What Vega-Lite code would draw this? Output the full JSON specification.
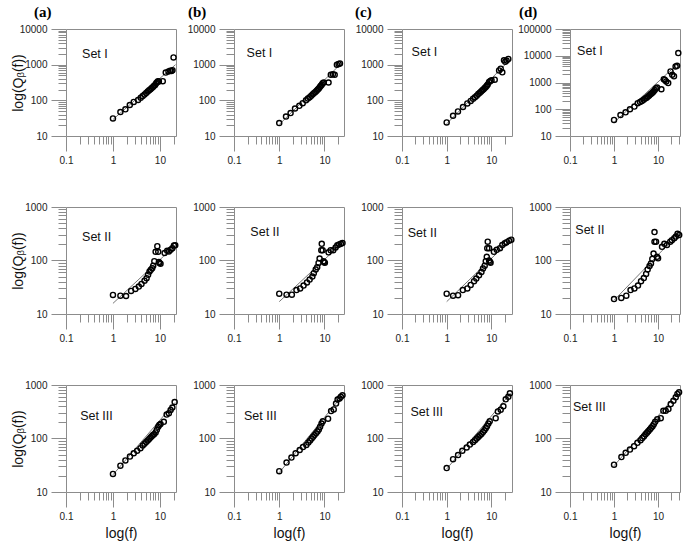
{
"$schema": "https://vega.github.io/schema/vega-lite/v6.json",
"padding": {"left": 10, "top": 4, "right": 0, "bottom": 0},
"bounds": "flush",
"columns": 4,
"spacing": {"row": 71, "column": 58},
"datasets": {
"fit": [
{"p":"a1","f":1,"q":29},{"p":"a1","f":21.5,"q":1000},
{"p":"b1","f":1,"q":21},{"p":"b1","f":22,"q":1000},
{"p":"c1","f":1,"q":22},{"p":"c1","f":25,"q":1300},
{"p":"d1","f":1,"q":32},{"p":"d1","f":28,"q":5000},
{"p":"a2","f":1,"q":15.8},{"p":"a2","f":21.7,"q":195},
{"p":"b2","f":1,"q":17},{"p":"b2","f":25,"q":215},
{"p":"c2","f":1,"q":17},{"p":"c2","f":28,"q":250},
{"p":"d2","f":1,"q":18},{"p":"d2","f":30,"q":325},
{"p":"a3","f":1,"q":21},{"p":"a3","f":21,"q":470},
{"p":"b3","f":1,"q":23},{"p":"b3","f":25,"q":640},
{"p":"c3","f":1,"q":27},{"p":"c3","f":27,"q":700},
{"p":"d3","f":1,"q":31},{"p":"d3","f":30,"q":740}
],
"pts": [
{"p":"a1","f":1,"q":31},{"p":"a1","f":1.44,"q":47},{"p":"a1","f":1.84,"q":56},{"p":"a1","f":2.28,"q":74},{"p":"a1","f":2.77,"q":90},{"p":"a1","f":3.43,"q":103},{"p":"a1","f":3.9,"q":118},{"p":"a1","f":4.3,"q":132},{"p":"a1","f":4.7,"q":145},{"p":"a1","f":5.1,"q":160},{"p":"a1","f":5.5,"q":178},{"p":"a1","f":5.9,"q":193},{"p":"a1","f":6.3,"q":205},{"p":"a1","f":6.7,"q":222},{"p":"a1","f":7.1,"q":238},{"p":"a1","f":7.5,"q":255},{"p":"a1","f":7.9,"q":270},{"p":"a1","f":8.3,"q":300},{"p":"a1","f":8.7,"q":320},{"p":"a1","f":9.1,"q":345},{"p":"a1","f":9.5,"q":340},{"p":"a1","f":11.5,"q":345},{"p":"a1","f":13.3,"q":600},{"p":"a1","f":15.2,"q":640},{"p":"a1","f":16.5,"q":680},{"p":"a1","f":17.6,"q":660},{"p":"a1","f":18.5,"q":700},{"p":"a1","f":19.5,"q":1600},
{"p":"b1","f":1,"q":23},{"p":"b1","f":1.41,"q":35},{"p":"b1","f":1.78,"q":44},{"p":"b1","f":2.23,"q":59},{"p":"b1","f":2.78,"q":70},{"p":"b1","f":3.3,"q":83},{"p":"b1","f":3.9,"q":100},{"p":"b1","f":4.3,"q":112},{"p":"b1","f":4.7,"q":122},{"p":"b1","f":5.1,"q":135},{"p":"b1","f":5.5,"q":148},{"p":"b1","f":5.9,"q":160},{"p":"b1","f":6.3,"q":172},{"p":"b1","f":6.7,"q":185},{"p":"b1","f":7.1,"q":200},{"p":"b1","f":7.5,"q":215},{"p":"b1","f":7.9,"q":235},{"p":"b1","f":8.3,"q":255},{"p":"b1","f":8.7,"q":275},{"p":"b1","f":9.1,"q":300},{"p":"b1","f":9.6,"q":316},{"p":"b1","f":12.3,"q":316},{"p":"b1","f":13.8,"q":520},{"p":"b1","f":15.3,"q":540},{"p":"b1","f":16.8,"q":520},{"p":"b1","f":18.8,"q":1000},{"p":"b1","f":20.5,"q":1050},{"p":"b1","f":22,"q":1080},
{"p":"c1","f":1,"q":24},{"p":"c1","f":1.39,"q":37},{"p":"c1","f":1.79,"q":49},{"p":"c1","f":2.32,"q":65},{"p":"c1","f":2.9,"q":82},{"p":"c1","f":3.45,"q":96},{"p":"c1","f":3.9,"q":110},{"p":"c1","f":4.3,"q":122},{"p":"c1","f":4.7,"q":135},{"p":"c1","f":5.1,"q":150},{"p":"c1","f":5.5,"q":163},{"p":"c1","f":5.9,"q":178},{"p":"c1","f":6.3,"q":192},{"p":"c1","f":6.7,"q":205},{"p":"c1","f":7.1,"q":220},{"p":"c1","f":7.5,"q":238},{"p":"c1","f":7.9,"q":255},{"p":"c1","f":8.3,"q":280},{"p":"c1","f":8.9,"q":324},{"p":"c1","f":9.5,"q":350},{"p":"c1","f":10.1,"q":365},{"p":"c1","f":11.9,"q":380},{"p":"c1","f":14.9,"q":690},{"p":"c1","f":16.2,"q":770},{"p":"c1","f":17.6,"q":610},{"p":"c1","f":19.2,"q":1320},{"p":"c1","f":20.5,"q":1200},{"p":"c1","f":22,"q":1300},{"p":"c1","f":24,"q":1450},
{"p":"d1","f":1,"q":40},{"p":"d1","f":1.4,"q":61},{"p":"d1","f":1.83,"q":77},{"p":"d1","f":2.3,"q":100},{"p":"d1","f":2.9,"q":126},{"p":"d1","f":3.45,"q":168},{"p":"d1","f":3.9,"q":185},{"p":"d1","f":4.3,"q":205},{"p":"d1","f":4.7,"q":225},{"p":"d1","f":5.1,"q":250},{"p":"d1","f":5.5,"q":270},{"p":"d1","f":5.9,"q":300},{"p":"d1","f":6.3,"q":330},{"p":"d1","f":6.7,"q":360},{"p":"d1","f":7.1,"q":390},{"p":"d1","f":7.5,"q":420},{"p":"d1","f":7.9,"q":460},{"p":"d1","f":8.4,"q":520},{"p":"d1","f":8.9,"q":600},{"p":"d1","f":9.5,"q":650},{"p":"d1","f":11.9,"q":560},{"p":"d1","f":13.5,"q":1330},{"p":"d1","f":14.3,"q":1250},{"p":"d1","f":15.3,"q":1100},{"p":"d1","f":17,"q":950},{"p":"d1","f":19.2,"q":2600},{"p":"d1","f":21,"q":1950},{"p":"d1","f":23,"q":1700},{"p":"d1","f":25,"q":4000},{"p":"d1","f":27,"q":4200},{"p":"d1","f":28.8,"q":12600},
{"p":"a2","f":1,"q":22.7},{"p":"a2","f":1.44,"q":22},{"p":"a2","f":1.9,"q":21.7},{"p":"a2","f":2.43,"q":27},{"p":"a2","f":3,"q":29.4},{"p":"a2","f":3.55,"q":32.6},{"p":"a2","f":4.05,"q":36.5},{"p":"a2","f":4.7,"q":42},{"p":"a2","f":5.2,"q":46.7},{"p":"a2","f":5.6,"q":54},{"p":"a2","f":6,"q":62},{"p":"a2","f":6.4,"q":67},{"p":"a2","f":6.85,"q":72},{"p":"a2","f":7.2,"q":80},{"p":"a2","f":7.6,"q":97},{"p":"a2","f":8.1,"q":145},{"p":"a2","f":8.8,"q":185},{"p":"a2","f":9.2,"q":145},{"p":"a2","f":9.5,"q":94},{"p":"a2","f":9.8,"q":90},{"p":"a2","f":10.3,"q":87},{"p":"a2","f":12.6,"q":138},{"p":"a2","f":14.3,"q":152},{"p":"a2","f":15.5,"q":148},{"p":"a2","f":16.9,"q":158},{"p":"a2","f":18.4,"q":170},{"p":"a2","f":19.9,"q":190},{"p":"a2","f":21.2,"q":192},
{"p":"b2","f":1,"q":24},{"p":"b2","f":1.45,"q":23},{"p":"b2","f":1.9,"q":23},{"p":"b2","f":2.4,"q":28},{"p":"b2","f":2.9,"q":30},{"p":"b2","f":3.45,"q":34},{"p":"b2","f":4.1,"q":39},{"p":"b2","f":4.7,"q":44},{"p":"b2","f":5.4,"q":50},{"p":"b2","f":5.8,"q":58},{"p":"b2","f":6.4,"q":68},{"p":"b2","f":6.9,"q":75},{"p":"b2","f":7.4,"q":90},{"p":"b2","f":7.8,"q":109},{"p":"b2","f":8.5,"q":156},{"p":"b2","f":8.7,"q":205},{"p":"b2","f":9.1,"q":156},{"p":"b2","f":9.5,"q":97},{"p":"b2","f":9.8,"q":93},{"p":"b2","f":10.2,"q":91},{"p":"b2","f":12.3,"q":142},{"p":"b2","f":13.7,"q":156},{"p":"b2","f":15.6,"q":156},{"p":"b2","f":17.6,"q":175},{"p":"b2","f":19.2,"q":192},{"p":"b2","f":21,"q":200},{"p":"b2","f":23,"q":205},{"p":"b2","f":25,"q":212},
{"p":"c2","f":1,"q":24},{"p":"c2","f":1.39,"q":22},{"p":"c2","f":1.8,"q":22.5},{"p":"c2","f":2.3,"q":28},{"p":"c2","f":2.9,"q":30},{"p":"c2","f":3.45,"q":35},{"p":"c2","f":4.1,"q":41},{"p":"c2","f":4.6,"q":46},{"p":"c2","f":5.3,"q":53},{"p":"c2","f":6,"q":61},{"p":"c2","f":6.5,"q":71},{"p":"c2","f":7.1,"q":80},{"p":"c2","f":7.5,"q":97},{"p":"c2","f":7.9,"q":117},{"p":"c2","f":8.1,"q":170},{"p":"c2","f":8.3,"q":225},{"p":"c2","f":8.9,"q":170},{"p":"c2","f":8.9,"q":100},{"p":"c2","f":9.3,"q":95},{"p":"c2","f":9.6,"q":91},{"p":"c2","f":11.4,"q":145},{"p":"c2","f":13.2,"q":158},{"p":"c2","f":15.6,"q":170},{"p":"c2","f":17.6,"q":195},{"p":"c2","f":20,"q":210},{"p":"c2","f":22,"q":220},{"p":"c2","f":25,"q":235},{"p":"c2","f":28,"q":245},
{"p":"d2","f":1,"q":19},{"p":"d2","f":1.46,"q":20},{"p":"d2","f":1.9,"q":22},{"p":"d2","f":2.37,"q":28},{"p":"d2","f":2.9,"q":30},{"p":"d2","f":3.5,"q":34},{"p":"d2","f":4.1,"q":41},{"p":"d2","f":4.75,"q":47},{"p":"d2","f":5.35,"q":56},{"p":"d2","f":5.8,"q":68},{"p":"d2","f":6.4,"q":79},{"p":"d2","f":6.9,"q":88},{"p":"d2","f":7.4,"q":107},{"p":"d2","f":7.9,"q":135},{"p":"d2","f":8.3,"q":225},{"p":"d2","f":8.3,"q":340},{"p":"d2","f":9,"q":225},{"p":"d2","f":9.5,"q":117},{"p":"d2","f":10,"q":110},{"p":"d2","f":12.3,"q":180},{"p":"d2","f":13.9,"q":205},{"p":"d2","f":15.9,"q":195},{"p":"d2","f":18.9,"q":225},{"p":"d2","f":20.6,"q":240},{"p":"d2","f":23.3,"q":260},{"p":"d2","f":25.4,"q":280},{"p":"d2","f":27.7,"q":315},{"p":"d2","f":30.2,"q":300},
{"p":"a3","f":1,"q":21.8},{"p":"a3","f":1.44,"q":31},{"p":"a3","f":1.84,"q":39},{"p":"a3","f":2.3,"q":46},{"p":"a3","f":2.77,"q":53},{"p":"a3","f":3.27,"q":59},{"p":"a3","f":3.85,"q":66},{"p":"a3","f":4.3,"q":74},{"p":"a3","f":4.7,"q":80},{"p":"a3","f":5.1,"q":86},{"p":"a3","f":5.5,"q":92},{"p":"a3","f":5.9,"q":98},{"p":"a3","f":6.3,"q":104},{"p":"a3","f":6.7,"q":110},{"p":"a3","f":7.1,"q":116},{"p":"a3","f":7.5,"q":120},{"p":"a3","f":8.1,"q":130},{"p":"a3","f":8.6,"q":145},{"p":"a3","f":9.2,"q":165},{"p":"a3","f":9.7,"q":178},{"p":"a3","f":10.3,"q":186},{"p":"a3","f":12.1,"q":205},{"p":"a3","f":13.9,"q":280},{"p":"a3","f":15.5,"q":295},{"p":"a3","f":16.9,"q":340},{"p":"a3","f":18.4,"q":380},{"p":"a3","f":20.6,"q":480},
{"p":"b3","f":1,"q":24.5},{"p":"b3","f":1.45,"q":35.5},{"p":"b3","f":1.86,"q":44},{"p":"b3","f":2.3,"q":53},{"p":"b3","f":2.83,"q":61},{"p":"b3","f":3.35,"q":69},{"p":"b3","f":3.97,"q":76},{"p":"b3","f":4.4,"q":84},{"p":"b3","f":4.8,"q":92},{"p":"b3","f":5.2,"q":100},{"p":"b3","f":5.6,"q":108},{"p":"b3","f":6,"q":116},{"p":"b3","f":6.5,"q":125},{"p":"b3","f":7,"q":135},{"p":"b3","f":7.5,"q":148},{"p":"b3","f":8,"q":165},{"p":"b3","f":8.6,"q":190},{"p":"b3","f":9.2,"q":210},{"p":"b3","f":12,"q":235},{"p":"b3","f":14,"q":325},{"p":"b3","f":16,"q":350},{"p":"b3","f":18,"q":450},{"p":"b3","f":19.5,"q":535},{"p":"b3","f":21.5,"q":560},{"p":"b3","f":23,"q":600},{"p":"b3","f":25,"q":640},
{"p":"c3","f":1,"q":28},{"p":"c3","f":1.39,"q":41},{"p":"c3","f":1.8,"q":49},{"p":"c3","f":2.24,"q":59},{"p":"c3","f":2.8,"q":68},{"p":"c3","f":3.3,"q":77},{"p":"c3","f":3.9,"q":86},{"p":"c3","f":4.3,"q":93},{"p":"c3","f":4.7,"q":100},{"p":"c3","f":5.1,"q":107},{"p":"c3","f":5.5,"q":114},{"p":"c3","f":6,"q":122},{"p":"c3","f":6.5,"q":132},{"p":"c3","f":7,"q":142},{"p":"c3","f":7.5,"q":155},{"p":"c3","f":8,"q":170},{"p":"c3","f":8.6,"q":190},{"p":"c3","f":9.2,"q":210},{"p":"c3","f":12.5,"q":240},{"p":"c3","f":14,"q":320},{"p":"c3","f":16.2,"q":345},{"p":"c3","f":18.6,"q":400},{"p":"c3","f":21,"q":540},{"p":"c3","f":24,"q":600},{"p":"c3","f":26,"q":700},
{"p":"d3","f":1,"q":32.4},{"p":"d3","f":1.47,"q":45},{"p":"d3","f":1.84,"q":54},{"p":"d3","f":2.3,"q":62},{"p":"d3","f":2.85,"q":72},{"p":"d3","f":3.4,"q":83},{"p":"d3","f":4,"q":93},{"p":"d3","f":4.4,"q":102},{"p":"d3","f":4.8,"q":110},{"p":"d3","f":5.2,"q":120},{"p":"d3","f":5.6,"q":128},{"p":"d3","f":6,"q":136},{"p":"d3","f":6.5,"q":147},{"p":"d3","f":7,"q":158},{"p":"d3","f":7.5,"q":170},{"p":"d3","f":8,"q":185},{"p":"d3","f":8.6,"q":205},{"p":"d3","f":9.6,"q":230},{"p":"d3","f":11.5,"q":240},{"p":"d3","f":13.2,"q":330},{"p":"d3","f":14.9,"q":330},{"p":"d3","f":17.2,"q":355},{"p":"d3","f":19.4,"q":440},{"p":"d3","f":22.3,"q":510},{"p":"d3","f":25.2,"q":590},{"p":"d3","f":27.5,"q":680},{"p":"d3","f":30,"q":730}
]
},
"concat": [
{"width": 110, "height": 107, "title": {"text": "(a)", "dx": -32},
 "layer": [
  {"data": {"name": "fit"}, "transform": [{"filter": "datum.p=='a1'"}], "mark": {"type": "line", "color": "#555", "strokeWidth": 0.8},
   "encoding": {
    "x": {"field": "f", "type": "quantitative", "scale": {"type": "log", "domain": [0.1, 22], "nice": false},
     "axis": {"values": [0.1,0.2,0.3,0.4,0.5,0.6,0.7,0.8,0.9,1,2,3,4,5,6,7,8,9,10,20], "format": "~g", "labelExpr": "abs(log(datum.value)/LN10-round(log(datum.value)/LN10))<0.001 ? datum.label : ''", "tickSize": {"condition": {"test": "abs(log(datum.value)/LN10-round(log(datum.value)/LN10))<0.001", "value": 15}, "value": 8}, "labelFlush": false, "labelOverlap": false, "title": null}},
    "y": {"field": "q", "type": "quantitative", "scale": {"type": "log", "domain": [10, 10000], "nice": false},
     "axis": {"values": [10,20,30,40,50,60,70,80,90,100,200,300,400,500,600,700,800,900,1000,2000,3000,4000,5000,6000,7000,8000,9000,10000], "format": "~g", "labelExpr": "abs(log(datum.value)/LN10-round(log(datum.value)/LN10))<0.001 ? datum.label : ''", "tickSize": {"condition": {"test": "abs(log(datum.value)/LN10-round(log(datum.value)/LN10))<0.001", "value": 15}, "value": 8}, "labelOverlap": false, "title": "log(Qᵦ(f))", "titleX": -41}}
   }},
  {"data": {"name": "pts"}, "transform": [{"filter": "datum.p=='a1'"}], "mark": {"type": "point", "shape": "circle", "filled": false, "color": "#000", "size": 26, "strokeWidth": 1.4, "opacity": 1},
   "encoding": {"x": {"field": "f", "type": "quantitative"}, "y": {"field": "q", "type": "quantitative"}}},
  {"data": {"values": [{}]}, "mark": {"type": "text", "text": "Set I", "align": "left", "baseline": "middle", "fontSize": 12.5, "color": "#111"},
   "encoding": {"x": {"datum": 0.22}, "y": {"datum": 2000}}}
 ]},
{"width": 110, "height": 107, "title": {"text": "(b)", "dx": -46},
 "layer": [
  {"data": {"name": "fit"}, "transform": [{"filter": "datum.p=='b1'"}], "mark": {"type": "line", "color": "#555", "strokeWidth": 0.8},
   "encoding": {
    "x": {"field": "f", "type": "quantitative", "scale": {"type": "log", "domain": [0.1, 27], "nice": false},
     "axis": {"values": [0.1,0.2,0.3,0.4,0.5,0.6,0.7,0.8,0.9,1,2,3,4,5,6,7,8,9,10,20], "format": "~g", "labelExpr": "abs(log(datum.value)/LN10-round(log(datum.value)/LN10))<0.001 ? datum.label : ''", "tickSize": {"condition": {"test": "abs(log(datum.value)/LN10-round(log(datum.value)/LN10))<0.001", "value": 15}, "value": 8}, "labelFlush": false, "labelOverlap": false, "title": null}},
    "y": {"field": "q", "type": "quantitative", "scale": {"type": "log", "domain": [10, 10000], "nice": false},
     "axis": {"values": [10,20,30,40,50,60,70,80,90,100,200,300,400,500,600,700,800,900,1000,2000,3000,4000,5000,6000,7000,8000,9000,10000], "format": "~g", "labelExpr": "abs(log(datum.value)/LN10-round(log(datum.value)/LN10))<0.001 ? datum.label : ''", "tickSize": {"condition": {"test": "abs(log(datum.value)/LN10-round(log(datum.value)/LN10))<0.001", "value": 15}, "value": 8}, "labelOverlap": false, "title": null}}
   }},
  {"data": {"name": "pts"}, "transform": [{"filter": "datum.p=='b1'"}], "mark": {"type": "point", "shape": "circle", "filled": false, "color": "#000", "size": 26, "strokeWidth": 1.4, "opacity": 1},
   "encoding": {"x": {"field": "f", "type": "quantitative"}, "y": {"field": "q", "type": "quantitative"}}},
  {"data": {"values": [{}]}, "mark": {"type": "text", "text": "Set I", "align": "left", "baseline": "middle", "fontSize": 12.5, "color": "#111"},
   "encoding": {"x": {"datum": 0.19}, "y": {"datum": 2150}}}
 ]},
{"width": 110, "height": 107, "title": {"text": "(c)", "dx": -47},
 "layer": [
  {"data": {"name": "fit"}, "transform": [{"filter": "datum.p=='c1'"}], "mark": {"type": "line", "color": "#555", "strokeWidth": 0.8},
   "encoding": {
    "x": {"field": "f", "type": "quantitative", "scale": {"type": "log", "domain": [0.1, 29], "nice": false},
     "axis": {"values": [0.1,0.2,0.3,0.4,0.5,0.6,0.7,0.8,0.9,1,2,3,4,5,6,7,8,9,10,20], "format": "~g", "labelExpr": "abs(log(datum.value)/LN10-round(log(datum.value)/LN10))<0.001 ? datum.label : ''", "tickSize": {"condition": {"test": "abs(log(datum.value)/LN10-round(log(datum.value)/LN10))<0.001", "value": 15}, "value": 8}, "labelFlush": false, "labelOverlap": false, "title": null}},
    "y": {"field": "q", "type": "quantitative", "scale": {"type": "log", "domain": [10, 10000], "nice": false},
     "axis": {"values": [10,20,30,40,50,60,70,80,90,100,200,300,400,500,600,700,800,900,1000,2000,3000,4000,5000,6000,7000,8000,9000,10000], "format": "~g", "labelExpr": "abs(log(datum.value)/LN10-round(log(datum.value)/LN10))<0.001 ? datum.label : ''", "tickSize": {"condition": {"test": "abs(log(datum.value)/LN10-round(log(datum.value)/LN10))<0.001", "value": 15}, "value": 8}, "labelOverlap": false, "title": null}}
   }},
  {"data": {"name": "pts"}, "transform": [{"filter": "datum.p=='c1'"}], "mark": {"type": "point", "shape": "circle", "filled": false, "color": "#000", "size": 26, "strokeWidth": 1.4, "opacity": 1},
   "encoding": {"x": {"field": "f", "type": "quantitative"}, "y": {"field": "q", "type": "quantitative"}}},
  {"data": {"values": [{}]}, "mark": {"type": "text", "text": "Set I", "align": "left", "baseline": "middle", "fontSize": 12.5, "color": "#111"},
   "encoding": {"x": {"datum": 0.164}, "y": {"datum": 2300}}}
 ]},
{"width": 110, "height": 107, "title": {"text": "(d)", "dx": -51},
 "layer": [
  {"data": {"name": "fit"}, "transform": [{"filter": "datum.p=='d1'"}], "mark": {"type": "line", "color": "#555", "strokeWidth": 0.8},
   "encoding": {
    "x": {"field": "f", "type": "quantitative", "scale": {"type": "log", "domain": [0.1, 31.5], "nice": false},
     "axis": {"values": [0.1,0.2,0.3,0.4,0.5,0.6,0.7,0.8,0.9,1,2,3,4,5,6,7,8,9,10,20,30], "format": "~g", "labelExpr": "abs(log(datum.value)/LN10-round(log(datum.value)/LN10))<0.001 ? datum.label : ''", "tickSize": {"condition": {"test": "abs(log(datum.value)/LN10-round(log(datum.value)/LN10))<0.001", "value": 15}, "value": 8}, "labelFlush": false, "labelOverlap": false, "title": null}},
    "y": {"field": "q", "type": "quantitative", "scale": {"type": "log", "domain": [10, 100000], "nice": false},
     "axis": {"values": [10,20,30,40,50,60,70,80,90,100,200,300,400,500,600,700,800,900,1000,2000,3000,4000,5000,6000,7000,8000,9000,10000,20000,30000,40000,50000,60000,70000,80000,90000,100000], "format": "~g", "labelExpr": "abs(log(datum.value)/LN10-round(log(datum.value)/LN10))<0.001 ? datum.label : ''", "tickSize": {"condition": {"test": "abs(log(datum.value)/LN10-round(log(datum.value)/LN10))<0.001", "value": 15}, "value": 8}, "labelOverlap": false, "title": null}}
   }},
  {"data": {"name": "pts"}, "transform": [{"filter": "datum.p=='d1'"}], "mark": {"type": "point", "shape": "circle", "filled": false, "color": "#000", "size": 26, "strokeWidth": 1.4, "opacity": 1},
   "encoding": {"x": {"field": "f", "type": "quantitative"}, "y": {"field": "q", "type": "quantitative"}}},
  {"data": {"values": [{}]}, "mark": {"type": "text", "text": "Set I", "align": "left", "baseline": "middle", "fontSize": 12.5, "color": "#111"},
   "encoding": {"x": {"datum": 0.145}, "y": {"datum": 14800}}}
 ]},
{"width": 110, "height": 107,
 "layer": [
  {"data": {"name": "fit"}, "transform": [{"filter": "datum.p=='a2'"}], "mark": {"type": "line", "color": "#555", "strokeWidth": 0.8},
   "encoding": {
    "x": {"field": "f", "type": "quantitative", "scale": {"type": "log", "domain": [0.1, 22], "nice": false},
     "axis": {"values": [0.1,0.2,0.3,0.4,0.5,0.6,0.7,0.8,0.9,1,2,3,4,5,6,7,8,9,10,20], "format": "~g", "labelExpr": "abs(log(datum.value)/LN10-round(log(datum.value)/LN10))<0.001 ? datum.label : ''", "tickSize": {"condition": {"test": "abs(log(datum.value)/LN10-round(log(datum.value)/LN10))<0.001", "value": 15}, "value": 8}, "labelFlush": false, "labelOverlap": false, "title": null}},
    "y": {"field": "q", "type": "quantitative", "scale": {"type": "log", "domain": [10, 1000], "nice": false},
     "axis": {"values": [10,20,30,40,50,60,70,80,90,100,200,300,400,500,600,700,800,900,1000], "format": "~g", "labelExpr": "abs(log(datum.value)/LN10-round(log(datum.value)/LN10))<0.001 ? datum.label : ''", "tickSize": {"condition": {"test": "abs(log(datum.value)/LN10-round(log(datum.value)/LN10))<0.001", "value": 15}, "value": 8}, "labelOverlap": false, "title": "log(Qᵦ(f))", "titleX": -41}}
   }},
  {"data": {"name": "pts"}, "transform": [{"filter": "datum.p=='a2'"}], "mark": {"type": "point", "shape": "circle", "filled": false, "color": "#000", "size": 26, "strokeWidth": 1.4, "opacity": 1},
   "encoding": {"x": {"field": "f", "type": "quantitative"}, "y": {"field": "q", "type": "quantitative"}}},
  {"data": {"values": [{}]}, "mark": {"type": "text", "text": "Set II", "align": "left", "baseline": "middle", "fontSize": 12.5, "color": "#111"},
   "encoding": {"x": {"datum": 0.22}, "y": {"datum": 280}}}
 ]},
{"width": 110, "height": 107,
 "layer": [
  {"data": {"name": "fit"}, "transform": [{"filter": "datum.p=='b2'"}], "mark": {"type": "line", "color": "#555", "strokeWidth": 0.8},
   "encoding": {
    "x": {"field": "f", "type": "quantitative", "scale": {"type": "log", "domain": [0.1, 27], "nice": false},
     "axis": {"values": [0.1,0.2,0.3,0.4,0.5,0.6,0.7,0.8,0.9,1,2,3,4,5,6,7,8,9,10,20], "format": "~g", "labelExpr": "abs(log(datum.value)/LN10-round(log(datum.value)/LN10))<0.001 ? datum.label : ''", "tickSize": {"condition": {"test": "abs(log(datum.value)/LN10-round(log(datum.value)/LN10))<0.001", "value": 15}, "value": 8}, "labelFlush": false, "labelOverlap": false, "title": null}},
    "y": {"field": "q", "type": "quantitative", "scale": {"type": "log", "domain": [10, 1000], "nice": false},
     "axis": {"values": [10,20,30,40,50,60,70,80,90,100,200,300,400,500,600,700,800,900,1000], "format": "~g", "labelExpr": "abs(log(datum.value)/LN10-round(log(datum.value)/LN10))<0.001 ? datum.label : ''", "tickSize": {"condition": {"test": "abs(log(datum.value)/LN10-round(log(datum.value)/LN10))<0.001", "value": 15}, "value": 8}, "labelOverlap": false, "title": null}}
   }},
  {"data": {"name": "pts"}, "transform": [{"filter": "datum.p=='b2'"}], "mark": {"type": "point", "shape": "circle", "filled": false, "color": "#000", "size": 26, "strokeWidth": 1.4, "opacity": 1},
   "encoding": {"x": {"field": "f", "type": "quantitative"}, "y": {"field": "q", "type": "quantitative"}}},
  {"data": {"values": [{}]}, "mark": {"type": "text", "text": "Set II", "align": "left", "baseline": "middle", "fontSize": 12.5, "color": "#111"},
   "encoding": {"x": {"datum": 0.23}, "y": {"datum": 340}}}
 ]},
{"width": 110, "height": 107,
 "layer": [
  {"data": {"name": "fit"}, "transform": [{"filter": "datum.p=='c2'"}], "mark": {"type": "line", "color": "#555", "strokeWidth": 0.8},
   "encoding": {
    "x": {"field": "f", "type": "quantitative", "scale": {"type": "log", "domain": [0.1, 29], "nice": false},
     "axis": {"values": [0.1,0.2,0.3,0.4,0.5,0.6,0.7,0.8,0.9,1,2,3,4,5,6,7,8,9,10,20], "format": "~g", "labelExpr": "abs(log(datum.value)/LN10-round(log(datum.value)/LN10))<0.001 ? datum.label : ''", "tickSize": {"condition": {"test": "abs(log(datum.value)/LN10-round(log(datum.value)/LN10))<0.001", "value": 15}, "value": 8}, "labelFlush": false, "labelOverlap": false, "title": null}},
    "y": {"field": "q", "type": "quantitative", "scale": {"type": "log", "domain": [10, 1000], "nice": false},
     "axis": {"values": [10,20,30,40,50,60,70,80,90,100,200,300,400,500,600,700,800,900,1000], "format": "~g", "labelExpr": "abs(log(datum.value)/LN10-round(log(datum.value)/LN10))<0.001 ? datum.label : ''", "tickSize": {"condition": {"test": "abs(log(datum.value)/LN10-round(log(datum.value)/LN10))<0.001", "value": 15}, "value": 8}, "labelOverlap": false, "title": null}}
   }},
  {"data": {"name": "pts"}, "transform": [{"filter": "datum.p=='c2'"}], "mark": {"type": "point", "shape": "circle", "filled": false, "color": "#000", "size": 26, "strokeWidth": 1.4, "opacity": 1},
   "encoding": {"x": {"field": "f", "type": "quantitative"}, "y": {"field": "q", "type": "quantitative"}}},
  {"data": {"values": [{}]}, "mark": {"type": "text", "text": "Set II", "align": "left", "baseline": "middle", "fontSize": 12.5, "color": "#111"},
   "encoding": {"x": {"datum": 0.134}, "y": {"datum": 320}}}
 ]},
{"width": 110, "height": 107,
 "layer": [
  {"data": {"name": "fit"}, "transform": [{"filter": "datum.p=='d2'"}], "mark": {"type": "line", "color": "#555", "strokeWidth": 0.8},
   "encoding": {
    "x": {"field": "f", "type": "quantitative", "scale": {"type": "log", "domain": [0.1, 31.5], "nice": false},
     "axis": {"values": [0.1,0.2,0.3,0.4,0.5,0.6,0.7,0.8,0.9,1,2,3,4,5,6,7,8,9,10,20,30], "format": "~g", "labelExpr": "abs(log(datum.value)/LN10-round(log(datum.value)/LN10))<0.001 ? datum.label : ''", "tickSize": {"condition": {"test": "abs(log(datum.value)/LN10-round(log(datum.value)/LN10))<0.001", "value": 15}, "value": 8}, "labelFlush": false, "labelOverlap": false, "title": null}},
    "y": {"field": "q", "type": "quantitative", "scale": {"type": "log", "domain": [10, 1000], "nice": false},
     "axis": {"values": [10,20,30,40,50,60,70,80,90,100,200,300,400,500,600,700,800,900,1000], "format": "~g", "labelExpr": "abs(log(datum.value)/LN10-round(log(datum.value)/LN10))<0.001 ? datum.label : ''", "tickSize": {"condition": {"test": "abs(log(datum.value)/LN10-round(log(datum.value)/LN10))<0.001", "value": 15}, "value": 8}, "labelOverlap": false, "title": null}}
   }},
  {"data": {"name": "pts"}, "transform": [{"filter": "datum.p=='d2'"}], "mark": {"type": "point", "shape": "circle", "filled": false, "color": "#000", "size": 26, "strokeWidth": 1.4, "opacity": 1},
   "encoding": {"x": {"field": "f", "type": "quantitative"}, "y": {"field": "q", "type": "quantitative"}}},
  {"data": {"values": [{}]}, "mark": {"type": "text", "text": "Set II", "align": "left", "baseline": "middle", "fontSize": 12.5, "color": "#111"},
   "encoding": {"x": {"datum": 0.132}, "y": {"datum": 365}}}
 ]},
{"width": 110, "height": 107,
 "layer": [
  {"data": {"name": "fit"}, "transform": [{"filter": "datum.p=='a3'"}], "mark": {"type": "line", "color": "#555", "strokeWidth": 0.8},
   "encoding": {
    "x": {"field": "f", "type": "quantitative", "scale": {"type": "log", "domain": [0.1, 22], "nice": false},
     "axis": {"values": [0.1,0.2,0.3,0.4,0.5,0.6,0.7,0.8,0.9,1,2,3,4,5,6,7,8,9,10,20], "format": "~g", "labelExpr": "abs(log(datum.value)/LN10-round(log(datum.value)/LN10))<0.001 ? datum.label : ''", "tickSize": {"condition": {"test": "abs(log(datum.value)/LN10-round(log(datum.value)/LN10))<0.001", "value": 15}, "value": 8}, "labelFlush": false, "labelOverlap": false, "title": "log(f)"}},
    "y": {"field": "q", "type": "quantitative", "scale": {"type": "log", "domain": [10, 1000], "nice": false},
     "axis": {"values": [10,20,30,40,50,60,70,80,90,100,200,300,400,500,600,700,800,900,1000], "format": "~g", "labelExpr": "abs(log(datum.value)/LN10-round(log(datum.value)/LN10))<0.001 ? datum.label : ''", "tickSize": {"condition": {"test": "abs(log(datum.value)/LN10-round(log(datum.value)/LN10))<0.001", "value": 15}, "value": 8}, "labelOverlap": false, "title": "log(Qᵦ(f))", "titleX": -41}}
   }},
  {"data": {"name": "pts"}, "transform": [{"filter": "datum.p=='a3'"}], "mark": {"type": "point", "shape": "circle", "filled": false, "color": "#000", "size": 26, "strokeWidth": 1.4, "opacity": 1},
   "encoding": {"x": {"field": "f", "type": "quantitative"}, "y": {"field": "q", "type": "quantitative"}}},
  {"data": {"values": [{}]}, "mark": {"type": "text", "text": "Set III", "align": "left", "baseline": "middle", "fontSize": 12.5, "color": "#111"},
   "encoding": {"x": {"datum": 0.2}, "y": {"datum": 258}}}
 ]},
{"width": 110, "height": 107,
 "layer": [
  {"data": {"name": "fit"}, "transform": [{"filter": "datum.p=='b3'"}], "mark": {"type": "line", "color": "#555", "strokeWidth": 0.8},
   "encoding": {
    "x": {"field": "f", "type": "quantitative", "scale": {"type": "log", "domain": [0.1, 27], "nice": false},
     "axis": {"values": [0.1,0.2,0.3,0.4,0.5,0.6,0.7,0.8,0.9,1,2,3,4,5,6,7,8,9,10,20], "format": "~g", "labelExpr": "abs(log(datum.value)/LN10-round(log(datum.value)/LN10))<0.001 ? datum.label : ''", "tickSize": {"condition": {"test": "abs(log(datum.value)/LN10-round(log(datum.value)/LN10))<0.001", "value": 15}, "value": 8}, "labelFlush": false, "labelOverlap": false, "title": "log(f)"}},
    "y": {"field": "q", "type": "quantitative", "scale": {"type": "log", "domain": [10, 1000], "nice": false},
     "axis": {"values": [10,20,30,40,50,60,70,80,90,100,200,300,400,500,600,700,800,900,1000], "format": "~g", "labelExpr": "abs(log(datum.value)/LN10-round(log(datum.value)/LN10))<0.001 ? datum.label : ''", "tickSize": {"condition": {"test": "abs(log(datum.value)/LN10-round(log(datum.value)/LN10))<0.001", "value": 15}, "value": 8}, "labelOverlap": false, "title": null}}
   }},
  {"data": {"name": "pts"}, "transform": [{"filter": "datum.p=='b3'"}], "mark": {"type": "point", "shape": "circle", "filled": false, "color": "#000", "size": 26, "strokeWidth": 1.4, "opacity": 1},
   "encoding": {"x": {"field": "f", "type": "quantitative"}, "y": {"field": "q", "type": "quantitative"}}},
  {"data": {"values": [{}]}, "mark": {"type": "text", "text": "Set III", "align": "left", "baseline": "middle", "fontSize": 12.5, "color": "#111"},
   "encoding": {"x": {"datum": 0.166}, "y": {"datum": 258}}}
 ]},
{"width": 110, "height": 107,
 "layer": [
  {"data": {"name": "fit"}, "transform": [{"filter": "datum.p=='c3'"}], "mark": {"type": "line", "color": "#555", "strokeWidth": 0.8},
   "encoding": {
    "x": {"field": "f", "type": "quantitative", "scale": {"type": "log", "domain": [0.1, 29], "nice": false},
     "axis": {"values": [0.1,0.2,0.3,0.4,0.5,0.6,0.7,0.8,0.9,1,2,3,4,5,6,7,8,9,10,20], "format": "~g", "labelExpr": "abs(log(datum.value)/LN10-round(log(datum.value)/LN10))<0.001 ? datum.label : ''", "tickSize": {"condition": {"test": "abs(log(datum.value)/LN10-round(log(datum.value)/LN10))<0.001", "value": 15}, "value": 8}, "labelFlush": false, "labelOverlap": false, "title": "log(f)"}},
    "y": {"field": "q", "type": "quantitative", "scale": {"type": "log", "domain": [10, 1000], "nice": false},
     "axis": {"values": [10,20,30,40,50,60,70,80,90,100,200,300,400,500,600,700,800,900,1000], "format": "~g", "labelExpr": "abs(log(datum.value)/LN10-round(log(datum.value)/LN10))<0.001 ? datum.label : ''", "tickSize": {"condition": {"test": "abs(log(datum.value)/LN10-round(log(datum.value)/LN10))<0.001", "value": 15}, "value": 8}, "labelOverlap": false, "title": null}}
   }},
  {"data": {"name": "pts"}, "transform": [{"filter": "datum.p=='c3'"}], "mark": {"type": "point", "shape": "circle", "filled": false, "color": "#000", "size": 26, "strokeWidth": 1.4, "opacity": 1},
   "encoding": {"x": {"field": "f", "type": "quantitative"}, "y": {"field": "q", "type": "quantitative"}}},
  {"data": {"values": [{}]}, "mark": {"type": "text", "text": "Set III", "align": "left", "baseline": "middle", "fontSize": 12.5, "color": "#111"},
   "encoding": {"x": {"datum": 0.154}, "y": {"datum": 310}}}
 ]},
{"width": 110, "height": 107,
 "layer": [
  {"data": {"name": "fit"}, "transform": [{"filter": "datum.p=='d3'"}], "mark": {"type": "line", "color": "#555", "strokeWidth": 0.8},
   "encoding": {
    "x": {"field": "f", "type": "quantitative", "scale": {"type": "log", "domain": [0.1, 31.5], "nice": false},
     "axis": {"values": [0.1,0.2,0.3,0.4,0.5,0.6,0.7,0.8,0.9,1,2,3,4,5,6,7,8,9,10,20,30], "format": "~g", "labelExpr": "abs(log(datum.value)/LN10-round(log(datum.value)/LN10))<0.001 ? datum.label : ''", "tickSize": {"condition": {"test": "abs(log(datum.value)/LN10-round(log(datum.value)/LN10))<0.001", "value": 15}, "value": 8}, "labelFlush": false, "labelOverlap": false, "title": "log(f)"}},
    "y": {"field": "q", "type": "quantitative", "scale": {"type": "log", "domain": [10, 1000], "nice": false},
     "axis": {"values": [10,20,30,40,50,60,70,80,90,100,200,300,400,500,600,700,800,900,1000], "format": "~g", "labelExpr": "abs(log(datum.value)/LN10-round(log(datum.value)/LN10))<0.001 ? datum.label : ''", "tickSize": {"condition": {"test": "abs(log(datum.value)/LN10-round(log(datum.value)/LN10))<0.001", "value": 15}, "value": 8}, "labelOverlap": false, "title": null}}
   }},
  {"data": {"name": "pts"}, "transform": [{"filter": "datum.p=='d3'"}], "mark": {"type": "point", "shape": "circle", "filled": false, "color": "#000", "size": 26, "strokeWidth": 1.4, "opacity": 1},
   "encoding": {"x": {"field": "f", "type": "quantitative"}, "y": {"field": "q", "type": "quantitative"}}},
  {"data": {"values": [{}]}, "mark": {"type": "text", "text": "Set III", "align": "left", "baseline": "middle", "fontSize": 12.5, "color": "#111"},
   "encoding": {"x": {"datum": 0.117}, "y": {"datum": 390}}}
 ]}
],
"config": {
 "view": {"stroke": "#8c8c8c", "strokeWidth": 1},
 "axis": {"domain": false, "grid": false, "tickColor": "#8c8c8c", "tickWidth": 1, "labelFont": "Liberation Sans", "labelFontSize": 10, "labelColor": "#222", "labelPadding": 4, "titleFont": "Liberation Sans", "titleFontSize": 14, "titleFontWeight": "normal", "titleColor": "#111", "titlePadding": 5},
 "text": {"font": "Liberation Sans"},
 "title": {"anchor": "start", "frame": "group", "font": "Liberation Serif", "fontSize": 15, "fontWeight": "bold", "color": "#000", "offset": 4}
}
}
